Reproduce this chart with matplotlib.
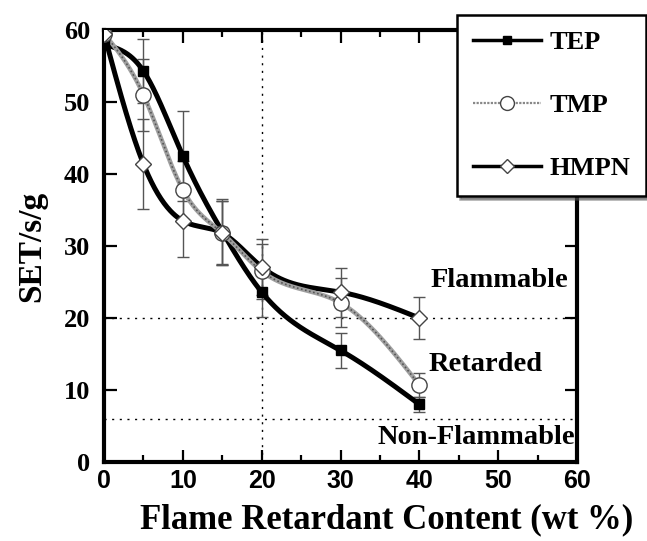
import numpy as np
import matplotlib
matplotlib.use("Agg")
import matplotlib.pyplot as plt
from matplotlib.lines import Line2D

# Flame retardant content (wt %) and SET values (s/g) with error bars
content = [0, 5, 10, 15, 20, 30, 40]
tep = [58.0, 54.3, 42.5, 32.0, 23.6, 15.5, 8.0]
tmp = [59.5, 51.0, 37.8, 31.8, 26.5, 22.1, 10.7]
hmpn = [59.5, 41.4, 33.5, 31.8, 27.1, 23.6, 20.0]
tep_err = [0, 4.5, 6.3, 4.5, 3.5, 2.4, 1.0]
tmp_err = [0, 5.0, 4.0, 4.5, 3.8, 3.4, 1.7]
hmpn_err = [0, 6.3, 5.0, 4.5, 3.9, 3.4, 2.9]

series_names = ["TEP", "TMP", "HMPN"]
region_labels = ["Flammable", "Retarded", "Non-Flammable"]
flammable_limit = 20
nonflammable_limit = 6
x_ticks = [0, 10, 20, 30, 40, 50, 60]
y_ticks = [0, 10, 20, 30, 40, 50, 60]

SERIF = "Liberation Serif"
SANS = "Liberation Sans"


def natural_spline(x, y, num=400):
    """Smooth curve through the given points (natural cubic spline)."""
    x = np.asarray(x, float)
    y = np.asarray(y, float)
    n = len(x)
    h = np.diff(x)
    A = np.zeros((n, n))
    b = np.zeros(n)
    A[0, 0] = A[-1, -1] = 1.0
    for i in range(1, n - 1):
        A[i, i - 1] = h[i - 1]
        A[i, i] = 2 * (h[i - 1] + h[i])
        A[i, i + 1] = h[i]
        b[i] = 3 * ((y[i + 1] - y[i]) / h[i] - (y[i] - y[i - 1]) / h[i - 1])
    c = np.linalg.solve(A, b)
    xs = np.linspace(x[0], x[-1], num)
    idx = np.clip(np.searchsorted(x, xs) - 1, 0, n - 2)
    dx = xs - x[idx]
    hi = h[idx]
    bcoef = (y[idx + 1] - y[idx]) / hi - hi * (2 * c[idx] + c[idx + 1]) / 3
    dcoef = (c[idx + 1] - c[idx]) / (3 * hi)
    ys = y[idx] + bcoef * dx + c[idx] * dx ** 2 + dcoef * dx ** 3
    return xs, ys


fig = plt.figure(figsize=(6.47, 5.41), dpi=100)
ax = fig.add_axes([104 / 647, 1 - 462 / 541, 473 / 647, 432 / 541])
ax.set_xlim(0, 60)
ax.set_ylim(0, 60)

# region boundaries
ax.axhline(flammable_limit, color="black", lw=1.0, ls=(0, (1.5, 4)), zorder=1)
ax.axhline(nonflammable_limit, color="black", lw=1.0, ls=(0, (1.5, 4)), zorder=1)
ax.axvline(20, color="black", lw=1.0, ls=(0, (1.5, 4)), zorder=1)

# error bars
for vals, errs in [(tep, tep_err), (tmp, tmp_err), (hmpn, hmpn_err)]:
    ax.errorbar(content, vals, yerr=errs, fmt="none", ecolor="#555555",
                elinewidth=1.0, capsize=4.5, capthick=1.0, zorder=2)

# smooth curves
xs, ys = natural_spline(content, tep)
ax.plot(xs, ys, color="black", lw=3.6, zorder=3, solid_capstyle="round")
xs, ys = natural_spline(content, hmpn)
ax.plot(xs, ys, color="black", lw=3.6, zorder=3, solid_capstyle="round")
xs, ys = natural_spline(content, tmp)
ax.plot(xs, ys, color="#a0a0a0", lw=3.2, zorder=4)
ax.plot(xs, ys, color="#555555", lw=1.2, ls=(0, (1, 1.5)), zorder=4)

# markers
ax.plot(content, tep, ls="none", marker="s", ms=7, mfc="black", mec="black", zorder=5)
ax.plot(content, tmp, ls="none", marker="o", ms=11, mfc="white", mec="#444444",
        mew=1.0, zorder=6)
ax.plot(content, hmpn, ls="none", marker="D", ms=8, mfc="white", mec="#444444",
        mew=1.0, zorder=6)

# region labels
label_kw = dict(ha="center", va="center", fontfamily=SERIF, fontweight="bold",
                fontsize=20.5, zorder=7)
ax.text(50.1, 25.2, region_labels[0], **label_kw)
ax.text(48.4, 13.6, region_labels[1], **label_kw)
ax.text(47.2, 3.4, region_labels[2], **label_kw)

# axes styling
for side in ["left", "bottom", "top", "right"]:
    ax.spines[side].set_linewidth(3)
ax.set_xticks(x_ticks)
ax.set_yticks(y_ticks)
ax.set_xticks([5, 15, 25, 35, 45, 55], minor=True)
ax.tick_params(which="major", direction="in", length=9, width=1.6,
               top=False, right=True, labelright=False)
ax.tick_params(which="minor", direction="in", length=5, width=1.6, top=True)
ax.tick_params(axis="x", which="major", top=True, length=9)
ax.set_xticklabels([str(t) for t in x_ticks], fontfamily=SANS,
                   fontweight="bold", fontsize=18)
ax.set_yticklabels([str(t) for t in y_ticks], fontfamily=SERIF,
                   fontweight="bold", fontsize=19)
ax.tick_params(axis="x", pad=5)
ax.tick_params(axis="y", pad=10)

ax.set_xlabel("Flame Retardant Content (wt %)", fontfamily=SERIF,
              fontweight="bold", fontsize=25)
ax.xaxis.set_label_coords(0.598, -0.095)
ax.xaxis.label.set_va("top")
ax.set_ylabel("SET/s/g", fontfamily=SERIF, fontweight="bold", fontsize=24,
              labelpad=12)

# legend
handles = [
    Line2D([], [], color="black", lw=2.5, marker="s", ms=6, mfc="black", mec="black"),
    Line2D([], [], color="#888888", lw=1.6, ls=(0, (1, 0.6)), marker="o", ms=10,
           mfc="white", mec="#444444"),
    Line2D([], [], color="black", lw=2.5, marker="D", ms=7, mfc="white", mec="#444444"),
]
leg = fig.legend(handles, series_names, loc="upper left",
                 bbox_to_anchor=(457 / 647, 1 - 15 / 541),
                 prop={"family": SERIF, "weight": "bold", "size": 19},
                 frameon=True, fancybox=False, shadow=True,
                 handlelength=2.6, handletextpad=0.3, labelspacing=1.5,
                 borderpad=0.6, borderaxespad=0)
leg.get_frame().set_edgecolor("black")
leg.get_frame().set_linewidth(1.8)
leg.set_zorder(10)

fig.savefig("out.png", dpi=100)
